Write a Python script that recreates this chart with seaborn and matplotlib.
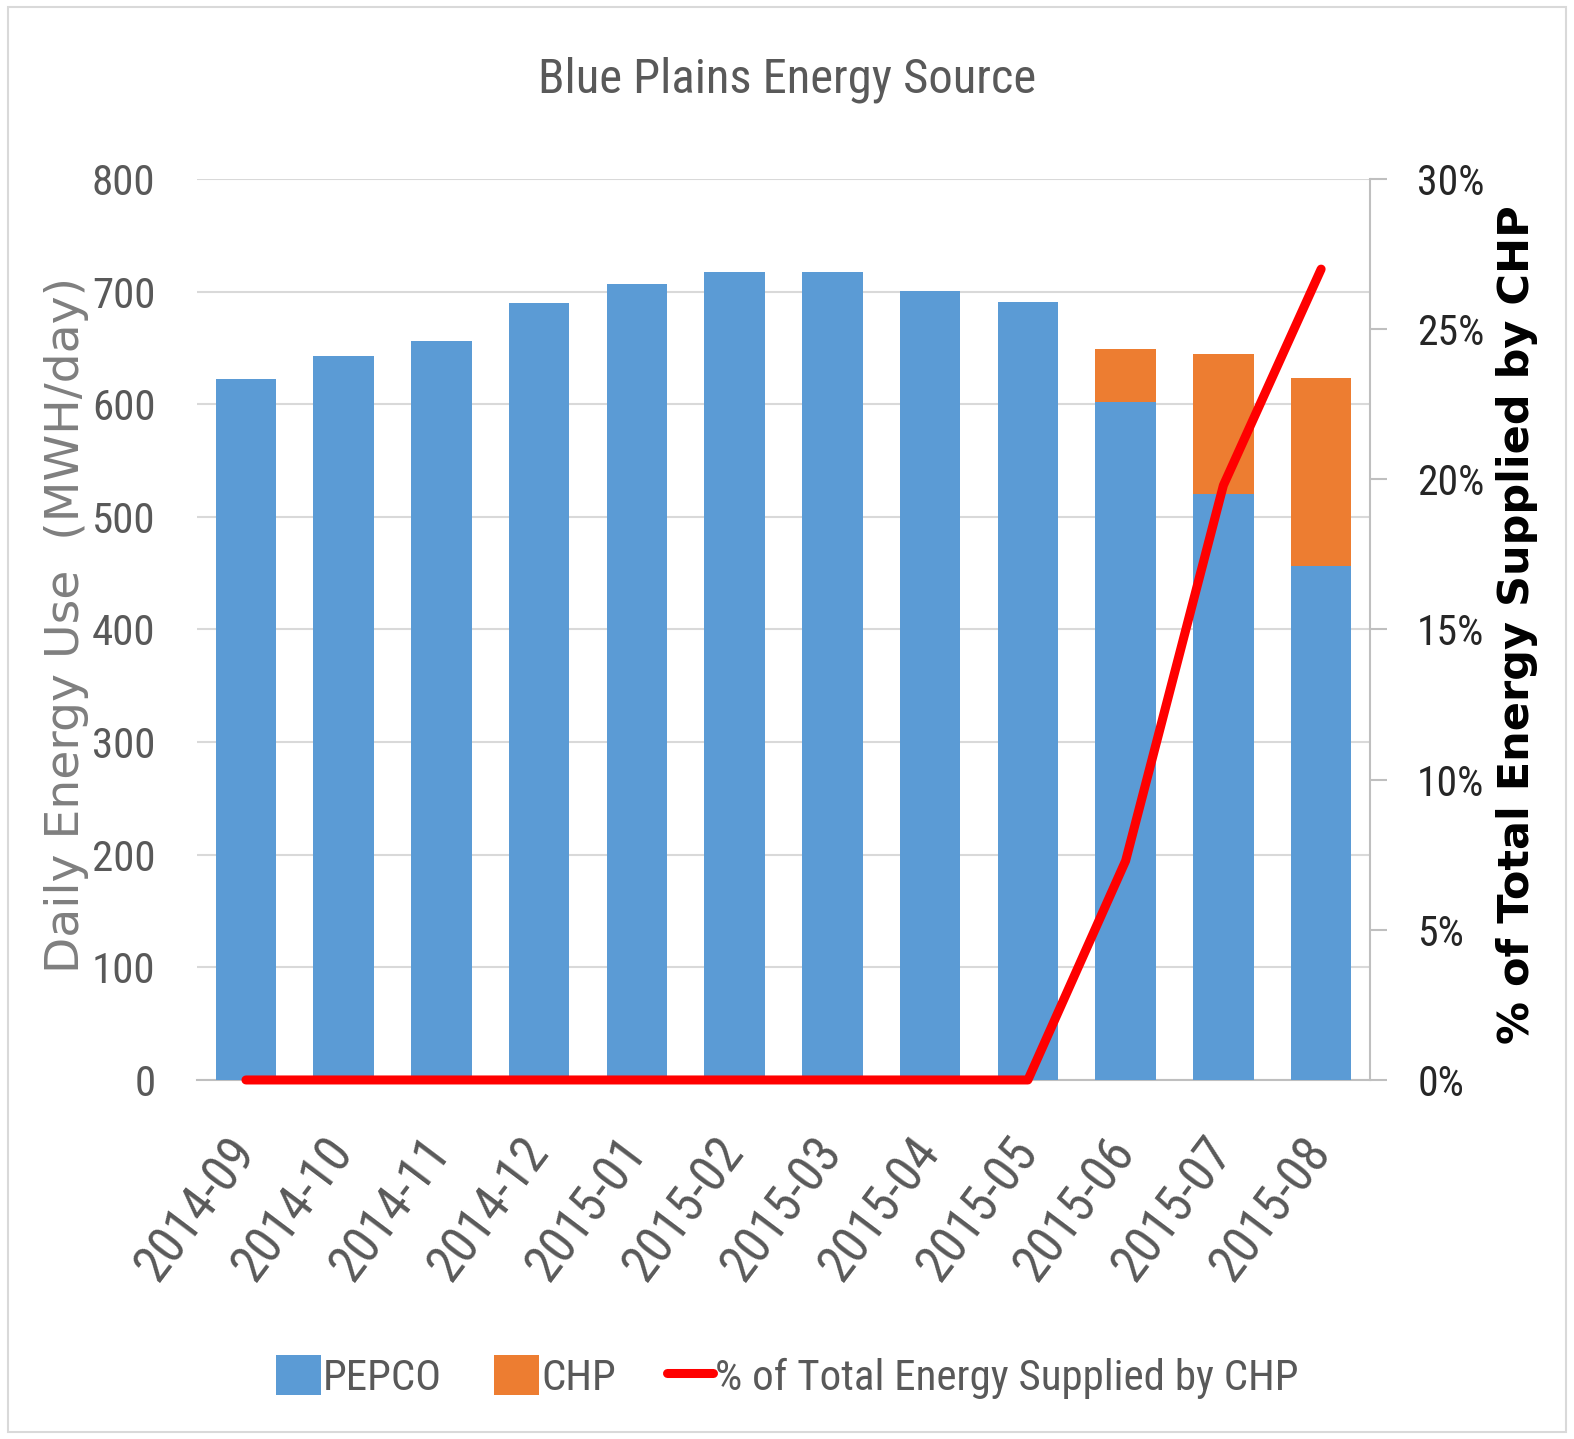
import numpy as np
import pandas as pd
import matplotlib
matplotlib.use("Agg")
import matplotlib.pyplot as plt
from matplotlib import font_manager
from matplotlib.patches import Rectangle
from matplotlib.ticker import FuncFormatter
import seaborn as sns

# Monthly data
months = ["2014-09", "2014-10", "2014-11", "2014-12", "2015-01", "2015-02",
          "2015-03", "2015-04", "2015-05", "2015-06", "2015-07", "2015-08"]
pepco = [622, 643, 656, 690, 707, 717, 717, 701, 691, 602, 520, 456]
chp = [0, 0, 0, 0, 0, 0, 0, 0, 0, 47, 125, 167]
chp_share = [0, 0, 0, 0, 0, 0, 0, 0, 0, 7.3, 19.8, 27.0]

BLUE = "#5B9BD5"
ORANGE = "#ED7D31"
RED = "#FF0000"
GRID = "#D9D9D9"
TXT = "#595959"

sns.set_theme(style="white")
names = {f.name for f in font_manager.fontManager.ttflist}
narrow = next((n for n in ["Liberation Sans Narrow", "Roboto Condensed", "Open Sans"] if n in names), "DejaVu Sans")
plt.rcParams["font.family"] = [narrow, "DejaVu Sans"]

df = pd.DataFrame({"month": months, "PEPCO": pepco, "CHP": chp})
df["total"] = df["PEPCO"] + df["CHP"]

fig = plt.figure(figsize=(15.74, 14.39), dpi=100)
fig.patches.append(Rectangle((0.005, 0.005), 0.99, 0.99, transform=fig.transFigure,
                             fill=False, edgecolor="#D9D9D9", linewidth=1.5))
ax = fig.add_axes([0.1252, 0.2495, 0.7452, 0.6261])

# stacked bars: total (CHP on top) drawn first, PEPCO over it
sns.barplot(data=df, x="month", y="total", color=ORANGE, saturation=1, width=0.62,
            linewidth=0, label="CHP", ax=ax, zorder=2)
sns.barplot(data=df, x="month", y="PEPCO", color=BLUE, saturation=1, width=0.62,
            linewidth=0, label="PEPCO", ax=ax, zorder=3)
if ax.get_legend() is not None:
    ax.get_legend().remove()

ax.set_ylim(0, 800)
ax.set_yticks(np.arange(0, 801, 100))
ax.yaxis.grid(True, color=GRID, linewidth=1.5, zorder=0)
ax.set_axisbelow(True)
for s in ["left", "right", "top"]:
    ax.spines[s].set_visible(False)
ax.spines["bottom"].set_color("#BFBFBF")
ax.spines["bottom"].set_linewidth(1.5)
ax.tick_params(axis="y", length=0, labelsize=31, labelcolor=TXT, pad=30)
ax.tick_params(axis="x", length=0, labelsize=37, labelcolor=TXT, pad=46)
for lab in ax.get_xticklabels():
    lab.set_rotation(53)
    lab.set_rotation_mode("anchor")
    lab.set_ha("right")
    lab.set_va("center")
ax.set_xlabel("")
ax.set_ylabel("")

# share of CHP on the secondary axis
ax2 = ax.twinx()
sns.lineplot(x=np.arange(len(months)), y=chp_share, color=RED, linewidth=6.5,
             ax=ax2, clip_on=False, solid_capstyle="round", zorder=5)
ax2.set_ylim(0, 30)
ax2.set_yticks(np.arange(0, 31, 5))
ax2.yaxis.set_major_formatter(FuncFormatter(lambda v, p: f"{int(v)}%"))
ax2.grid(False)
for s in ["left", "top", "bottom"]:
    ax2.spines[s].set_visible(False)
ax2.spines["right"].set_color("#BFBFBF")
ax2.spines["right"].set_linewidth(1.5)
ax2.tick_params(axis="y", direction="out", length=12, width=1.5, color="#BFBFBF",
                labelsize=30, labelcolor="#262626", pad=22)
ax2.set_xlim(-0.5, len(months) - 0.5)
ax.set_xlim(-0.5, len(months) - 0.5)

fig.text(0.5, 1 - 80 / 1439, "Blue Plains Energy Source", ha="center", va="center",
         fontsize=35, color=TXT)
fig.text(67 / 1574, 1 - 625 / 1439, "Daily Energy Use  (MWH/day)", rotation=90,
         ha="center", va="center", fontsize=34, color="#7F7F7F", family="DejaVu Sans")
fig.text(1517 / 1574, 1 - 625 / 1439, "% of Total Energy Supplied by CHP", rotation=90,
         ha="center", va="center", fontsize=31, color="black", fontweight="bold",
         family="DejaVu Sans")

h1, l1 = ax.get_legend_handles_labels()
h2 = ax2.get_lines()[:1]
hmap = dict(zip(l1, h1))
handles = [hmap["PEPCO"], hmap["CHP"], h2[0]]
labels = ["PEPCO", "CHP", "% of Total Energy Supplied by CHP"]
fig.legend(handles, labels, loc="center", bbox_to_anchor=(0.5, 1 - 1377 / 1439),
           ncol=3, frameon=False, fontsize=31, labelcolor=TXT, handlelength=1.05,
           handleheight=1.05, handletextpad=0.05, columnspacing=1.2)

fig.savefig("out.png", dpi=100, facecolor="white")
